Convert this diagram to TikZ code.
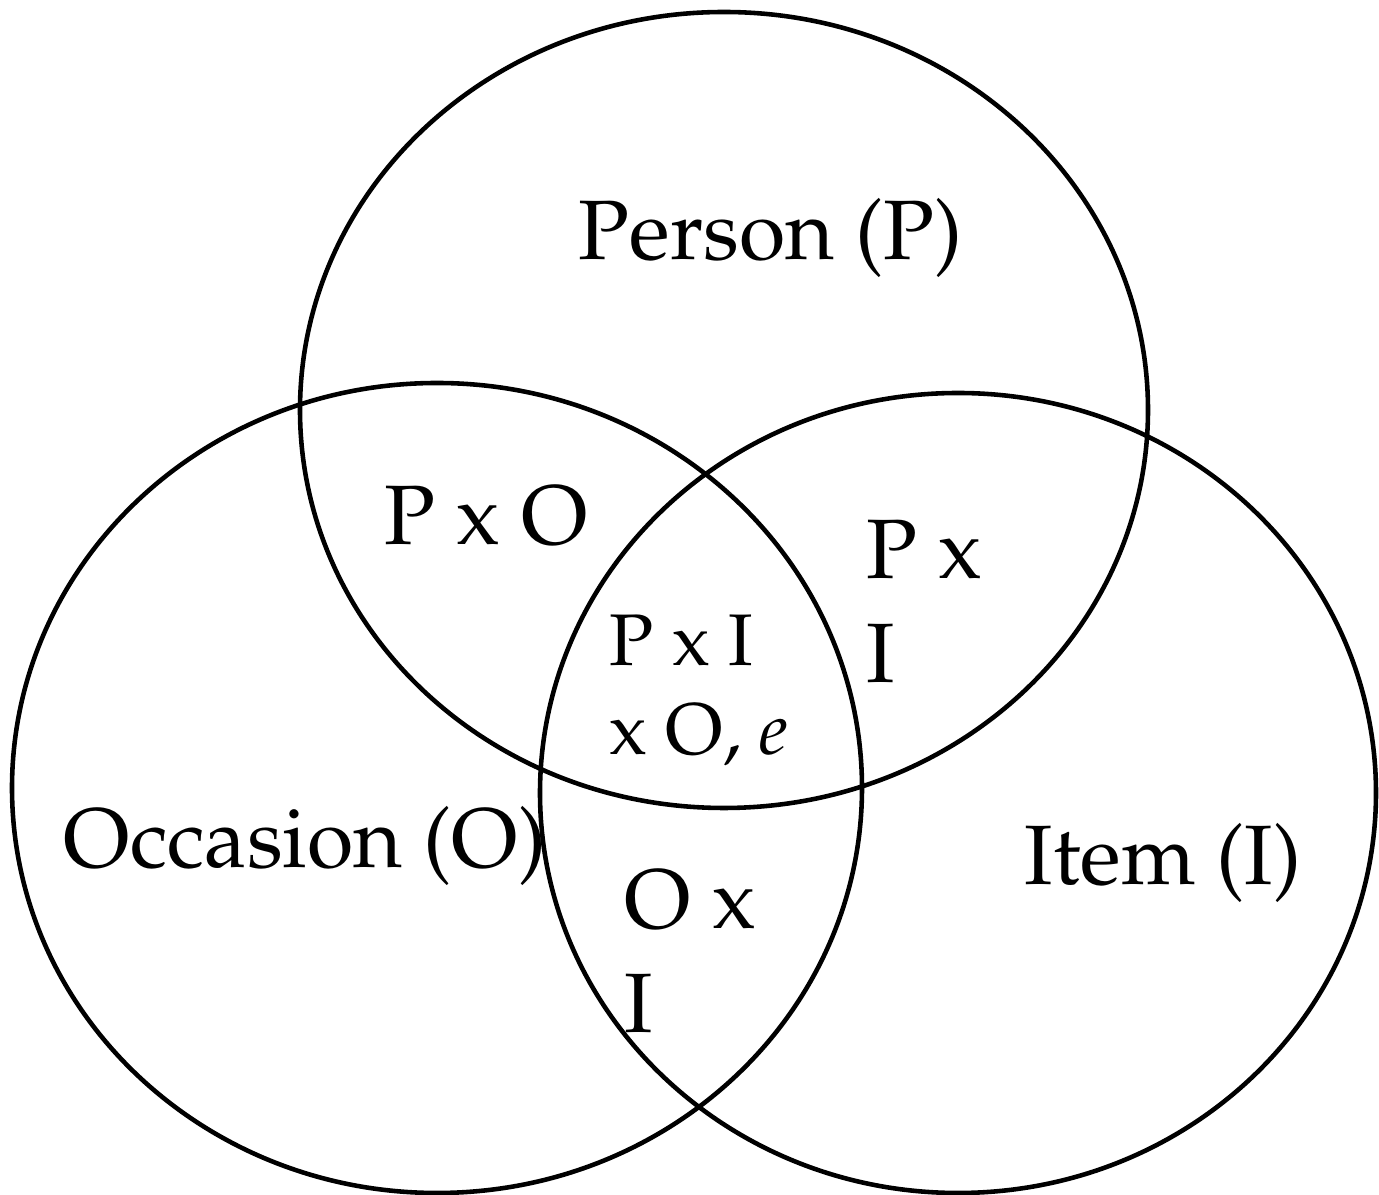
\documentclass[tikz,border=0pt]{standalone}
\usepackage[T1]{fontenc}
\usepackage{mathpazo}
\usepackage{tikz}
\usetikzlibrary{positioning}

\begin{document}
\begin{tikzpicture}[setlabel/.style={anchor=base west, inner sep=0pt, align=left, font=\fontsize{24}{29.6}\selectfont},
    corelabel/.style={setlabel, font=\fontsize{20.8}{25.6}\selectfont}]
    \useasboundingbox (0,0) rectangle (13.79,11.95);
    \draw[line width=1.3pt] (7.24, 7.85) ellipse [x radius=4.24, y radius=3.98];
    \draw[line width=1.3pt] (4.37, 4.07) ellipse [x radius=4.25, y radius=4.05];
    \draw[line width=1.3pt] (9.58, 4.02) ellipse [x radius=4.18, y radius=4.00];

    \node[setlabel] (person) at (5.78, 9.35) {Person (P)};
    \node[setlabel] (occasion) at (0.63, 3.27) {Occasion (O)};
    \node[setlabel] (item) at (10.24, 3.10) {Item (I)};

    % two-line labels sit on the baseline of their last line
    \node[setlabel] (po) at (3.84, 6.50) {P x O};
    \node[setlabel] (pi) at (8.66, 5.12) {P x\\I};
    \node[setlabel] (oi) at (6.24, 1.62) {O x\\I};
    \node[corelabel] (poi) at (6.09, 4.40) {P x I\\x O, \textit{e}};
  \end{tikzpicture}
\end{document}
